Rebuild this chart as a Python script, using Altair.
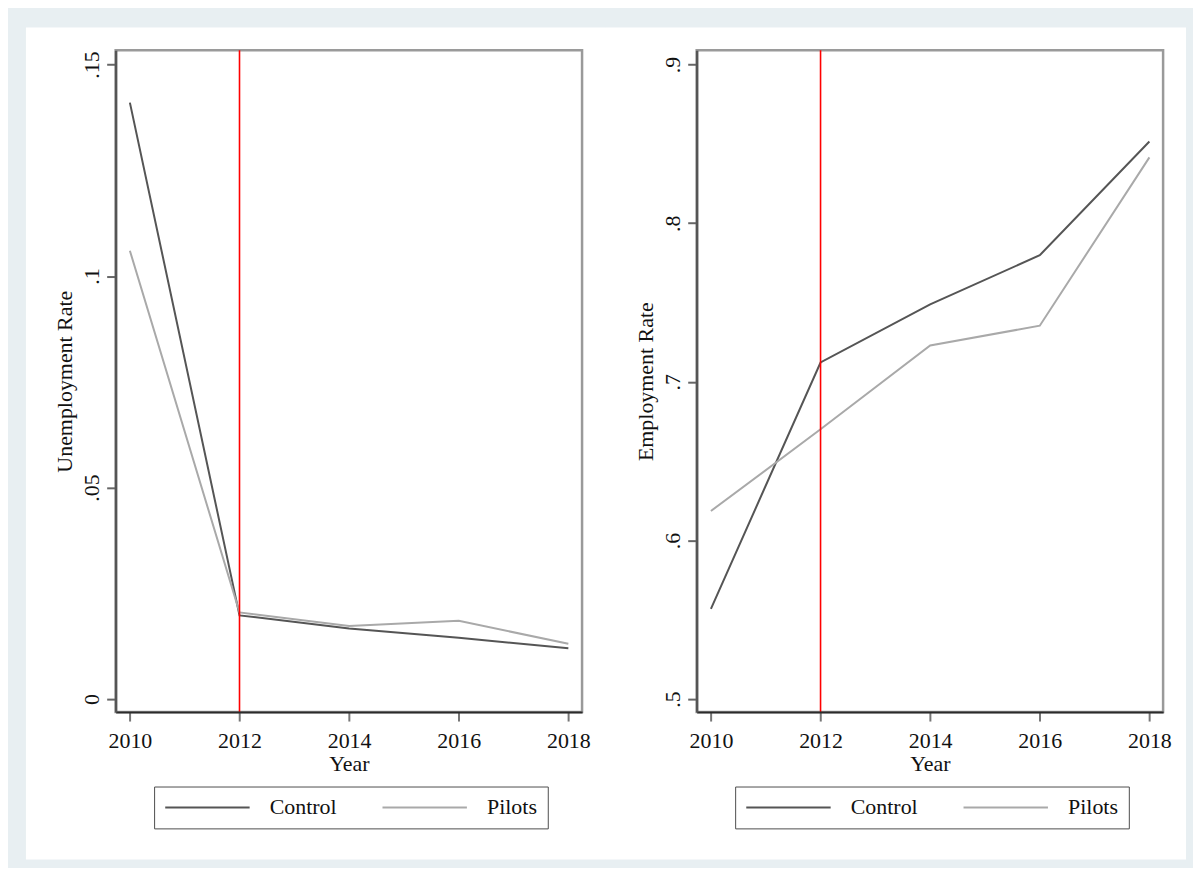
import altair as alt
import pandas as pd

# ---- data ----
years = [2010, 2012, 2014, 2016, 2018]
groups = ["Control", "Pilots"]
unemp_control = [0.1410, 0.0198, 0.0167, 0.0145, 0.0120]
unemp_pilots = [0.1060, 0.0205, 0.0173, 0.0185, 0.0131]
emp_control = [0.5569, 0.7122, 0.7488, 0.7798, 0.8515]
emp_pilots = [0.6186, 0.6701, 0.7229, 0.7354, 0.8415]
event_year = [2012]
x_ticks = [2010, 2012, 2014, 2016, 2018]
unemp_ticks = [0, 0.05, 0.1, 0.15]
emp_ticks = [0.5, 0.6, 0.7, 0.8, 0.9]

FONT = "Liberation Serif"
W, H = 468, 664
line_colors = ["#555555", "#a9a9a9"]


def panel(ctrl, pilot, title, ydomain, yticks, bg_left, bg_right):
    df = pd.DataFrame({
        "year": years * 2,
        "rate": ctrl + pilot,
        "group": [groups[0]] * len(years) + [groups[1]] * len(years),
    })
    ev = pd.DataFrame({"year": event_year})
    one = pd.DataFrame({"k": [0]})

    bg = alt.Chart(one).mark_rect(fill="white").encode(
        x=alt.value(bg_left), x2=alt.value(bg_right), y=alt.value(-23), y2=alt.value(812)
    )
    frame = alt.Chart(one).mark_rect(fillOpacity=0, stroke="#9a9a9a", strokeWidth=2.5).encode(
        x=alt.value(0), x2=alt.value(W), y=alt.value(0), y2=alt.value(H)
    )
    xscale = alt.Scale(domain=[2009.74, 2018.25], nice=False, zero=False)
    yscale = alt.Scale(domain=ydomain, nice=False, zero=False)
    lines = alt.Chart(df).mark_line(strokeWidth=2).encode(
        x=alt.X("year:Q", scale=xscale, axis=alt.Axis(
            values=x_ticks, format="d", title="Year", grid=False,
            tickSize=9, tickWidth=2, tickColor="#777777",
            labelPadding=10, labelFont=FONT, labelFontSize=22, labelColor="#111111",
            labelFlush=False, labelOverlap=False, labelBound=False,
            titleFont=FONT, titleFontSize=22, titleFontWeight="normal", titleColor="#111111",
            titleY=59, titleBaseline="alphabetic",
            domainColor="#2b2b2b", domainWidth=2, zindex=1)),
        y=alt.Y("rate:Q", scale=yscale, axis=alt.Axis(
            values=yticks, labelExpr="replace(format(datum.value, '~g'), '0.', '.')",
            title=title, grid=False,
            tickSize=9, tickWidth=2, tickColor="#666666",
            labelAngle=270, labelAlign="center", labelBaseline="alphabetic",
            labelPadding=8, labelFont=FONT, labelFontSize=22, labelColor="#111111",
            labelFlush=False, labelOverlap=False, labelBound=False,
            titleFont=FONT, titleFontSize=22, titleFontWeight="normal", titleColor="#111111",
            titleAngle=270, titleX=-44, titleY=H / 2, titleAlign="center",
            titleBaseline="alphabetic",
            domainColor="#555555", domainWidth=2.5, zindex=1)),
        color=alt.Color("group:N", scale=alt.Scale(domain=groups, range=line_colors),
                        legend=alt.Legend(
                            title=None, orient="none", legendX=38.6, legendY=738.7,
                            direction="horizontal", columns=2,
                            symbolType="stroke", symbolSize=7174, symbolStrokeWidth=2,
                            clipHeight=22, labelFont=FONT, labelFontSize=22,
                            labelColor="#111111", labelOffset=19, columnPadding=44,
                            padding=10, strokeColor="#4d4d4d", fillColor="white")),
    )
    rule = alt.Chart(ev).mark_rule(color="#ff0000", strokeWidth=1.6).encode(
        x=alt.X("year:Q", scale=xscale)
    )
    return alt.layer(bg, frame, lines, rule).properties(width=W, height=H)


left = panel(unemp_control, unemp_pilots, "Unemployment Rate",
             [-0.00306, 0.15337], unemp_ticks, -90, 492)
right = panel(emp_control, emp_pilots, "Employment Rate",
              [0.49184, 0.90898], emp_ticks, -91, 491)

chart = alt.hconcat(left, right, spacing=-2).resolve_scale(
    color="independent"
).resolve_legend(color="independent").properties(
    background="#e8eff2",
    padding={"left": 17, "top": 17, "right": 6, "bottom": 6},
).configure_view(stroke="transparent")

chart.save("out.html", embed_options={"renderer": "svg", "actions": False})
